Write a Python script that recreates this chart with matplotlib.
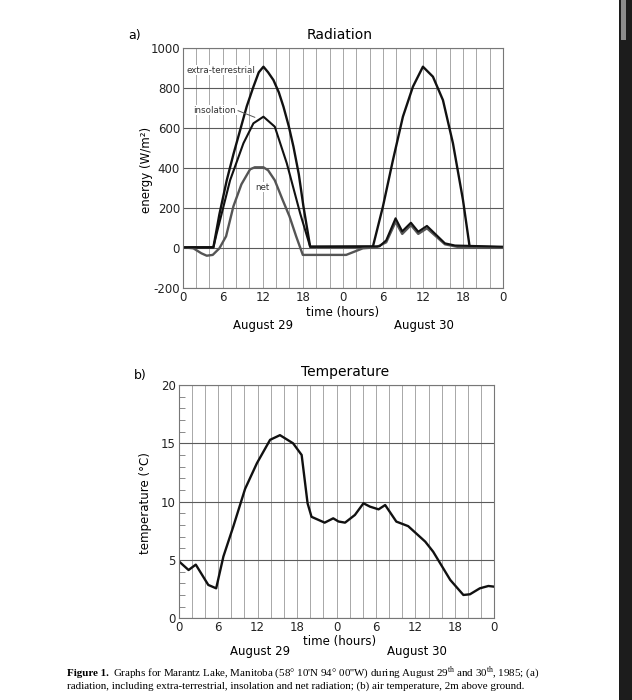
import matplotlib
matplotlib.use("Agg")
from matplotlib import pyplot as plt
from matplotlib.patches import Rectangle

plt.rcParams['font.family'] = ['DejaVu Sans']
plt.rcParams['mathtext.fontset'] = 'custom'
plt.rcParams['mathtext.rm'] = 'Liberation Serif'
plt.rcParams['axes.unicode_minus'] = False

# radiation (W/m2), hours since 0:00 Aug 29
et_hours = [0, 4.6, 5.5, 6.6, 7.6, 8.6, 9.6, 10.6, 11.4, 12.1, 12.8, 13.6, 14.4, 15.1,
            15.9, 16.6, 17.4, 18.1, 19.1, 28.5, 30, 31.5, 33, 34.5, 36, 37.5, 39,
            40.5, 42, 43, 48]
et_vals = [5, 5, 170, 340, 470, 590, 710, 808, 880, 908, 880, 841, 780, 708,
           610, 508, 370, 208, 8, 8, 208, 440, 658, 808, 908, 858, 741,
           525, 242, 8, 5]

ins_hours = [0, 4.6, 5.1, 7.1, 9.1, 10.6, 12.1, 13.8, 15.6, 17.6, 19.1, 29.5, 30.5,
             31.9, 32.9, 34.2, 35.3, 36.6, 39.3, 40.8, 48]
ins_vals = [5, 5, 75, 340, 525, 625, 658, 608, 425, 175, 8, 10, 40,
            150, 85, 128, 83, 112, 25, 14, 8]

net_hours = [0, 1.6, 2.8, 3.6, 4.5, 5.5, 6.5, 7.6, 8.8, 10.1, 10.8, 12.1, 12.8, 13.8,
             15, 16, 17, 18, 24.5, 27, 29, 30.5, 31.9, 32.9, 34.2, 35.3, 36.6, 39.3,
             41.5, 48]
net_vals = [5, 0, -25, -37, -33, 0, 60, 210, 320, 395, 405, 405, 390, 340,
            240, 160, 60, -33, -33, 0, 5, 30, 132, 72, 116, 72, 100, 20,
            5, 3]

# air temperature (C)
temp_hours = [0, 1.5, 2.6, 4.5, 5.7, 6.8, 8.3, 10.1, 11.9, 13.9, 15.4, 17.4, 18.7,
              19.2, 19.6, 20.2, 22.2, 23.5, 24.3, 25.3, 26.8, 28.1, 29.1, 30.4,
              31.4, 33.1, 34.9, 37.5, 38.7, 41.3, 43.3, 44.3, 45.8, 47.1, 48]
temp_vals = [4.9, 4.14, 4.6, 2.86, 2.57, 5.3, 7.86, 11.1, 13.3, 15.3, 15.7, 15.0, 14.0,
             11.7, 9.86, 8.7, 8.2, 8.57, 8.3, 8.2, 8.86, 9.86, 9.57, 9.34,
             9.71, 8.29, 7.9, 6.57, 5.71, 3.29, 2.0, 2.06, 2.57, 2.77, 2.71]

xticks = list(range(0, 49, 6))
xticklabels = ['0', '6', '12', '18', '0', '6', '12', '18', '0']

W, H = 632, 700
fig = plt.figure(figsize=(6.32, 7.0), dpi=100)


def px(x, y):
    return x / W, 1 - y / H


def style_axes(ax):
    ax.set_xlim(0, 48)
    ax.set_xticks(xticks)
    ax.set_xticklabels(xticklabels)
    ax.set_xticks(range(0, 49, 2), minor=True)
    ax.grid(True, which='minor', axis='x', color='#9a9a9a', lw=0.6)
    ax.grid(True, which='major', axis='x', color='#9a9a9a', lw=0.6)
    ax.grid(True, which='major', axis='y', color='#5a5a5a', lw=0.8)
    ax.set_axisbelow(True)
    ax.tick_params(which='major', length=0, labelsize=8.5, colors='#222222', pad=2)
    ax.tick_params(which='minor', axis='x', length=0)
    for s in ax.spines.values():
        s.set_color('#777777')
        s.set_linewidth(0.8)


# --- a) radiation
ax1 = fig.add_axes([182.7 / W, 1 - 288.3 / H, 320.3 / W, 240 / H])
style_axes(ax1)
ax1.set_ylim(-200, 1000)
ax1.set_yticks(range(-200, 1001, 200))
ax1.plot(et_hours, et_vals, color='#111111', lw=1.7)
ax1.plot(net_hours, net_vals, color='#555555', lw=1.7)
ax1.plot(ins_hours, ins_vals, color='#111111', lw=1.5)

ax1.text(5.7, 891, 'extra-terrestrial', fontsize=6.3, ha='center', va='center',
         color='#333333', bbox=dict(facecolor='white', edgecolor='none', pad=0.5))
ax1.text(4.8, 691, 'insolation', fontsize=6.3, ha='center', va='center',
         color='#333333', bbox=dict(facecolor='white', edgecolor='none', pad=0.5))
ax1.plot([8.3, 10.8], [688, 655], color='#555555', lw=0.7)
ax1.text(11.9, 306, 'net', fontsize=6.3, ha='center', va='center',
         color='#333333', bbox=dict(facecolor='white', edgecolor='none', pad=0.5))

fig.text(*px(340, 35), 'Radiation', fontsize=10, ha='center', va='center')
fig.text(*px(135, 36), 'a)', fontsize=9, ha='center', va='center')
fig.text(*px(146.7, 170), 'energy (W/m²)', fontsize=8.5, ha='center', va='center',
         rotation=90)
fig.text(*px(342.7, 313), 'time (hours)', fontsize=8.5, ha='center', va='center')
fig.text(*px(263, 326), 'August 29', fontsize=8.5, ha='center', va='center')
fig.text(*px(424, 326), 'August 30', fontsize=8.5, ha='center', va='center')

# --- b) temperature
ax2 = fig.add_axes([178.7 / W, 1 - 618.3 / H, 315.6 / W, 233.3 / H])
style_axes(ax2)
ax2.set_ylim(0, 20)
ax2.set_yticks(range(0, 21, 5))
ax2.set_yticks(range(0, 21), minor=True)
ax2.tick_params(which='minor', axis='y', direction='in', length=4, color='#777777')
ax2.plot(temp_hours, temp_vals, color='#111111', lw=1.7)

fig.text(*px(345, 372), 'Temperature', fontsize=10, ha='center', va='center')
fig.text(*px(140, 375), 'b)', fontsize=9, ha='center', va='center')
fig.text(*px(145, 503), 'temperature (°C)', fontsize=8.5, ha='center', va='center',
         rotation=90)
fig.text(*px(340, 641), 'time (hours)', fontsize=8.5, ha='center', va='center')
fig.text(*px(260, 652), 'August 29', fontsize=8.5, ha='center', va='center')
fig.text(*px(417, 652), 'August 30', fontsize=8.5, ha='center', va='center')

# --- caption
serif = ['Liberation Serif', 'DejaVu Serif']
t = fig.text(*px(67, 673), 'Figure 1.', fontsize=7.9, fontweight='bold',
             family=serif, va='center')
r = fig.canvas.get_renderer()
bb = t.get_window_extent(renderer=r)
fig.text((bb.x1 + 4) / W, 1 - 673 / H,
         "Graphs for Marantz Lake, Manitoba (58° 10'N 94° 00''W) during August "
         r"29$^{\rm th}$ and 30$^{\rm th}$, 1985; (a)",
         fontsize=7.9, family=serif, va='center')
fig.text(*px(67, 686),
         'radiation, including extra-terrestrial, insolation and net radiation; '
         '(b) air temperature, 2m above ground.',
         fontsize=7.9, family=serif, va='center')

# screenshot frame on the right edge
fig.patches.append(Rectangle((619.3 / W, 0), 12.7 / W, 1, transform=fig.transFigure,
                             facecolor='#1c1c1c', edgecolor='none'))
fig.patches.append(Rectangle((620.7 / W, 1 - 40 / H), 5 / W, 40 / H,
                             transform=fig.transFigure, facecolor='#8c8c8c',
                             edgecolor='none'))

fig.savefig('out.png', dpi=100)
